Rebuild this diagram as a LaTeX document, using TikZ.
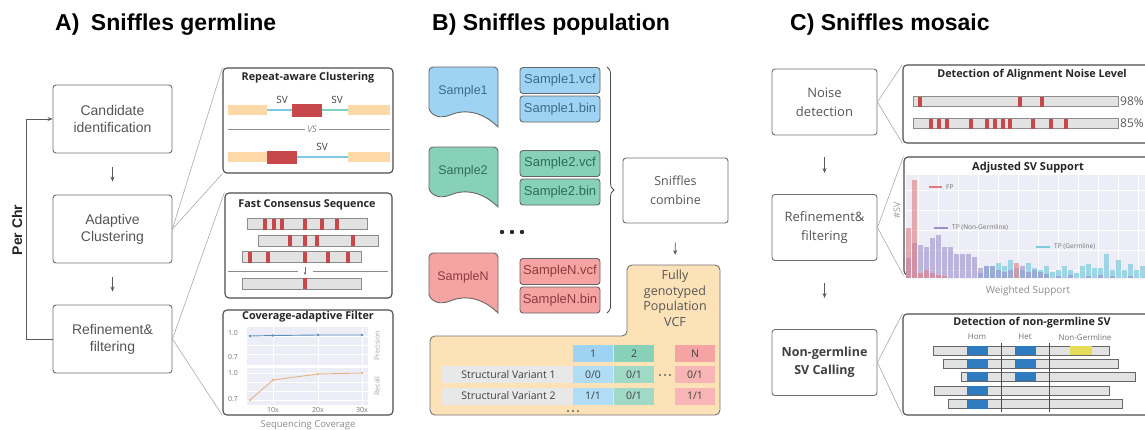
\documentclass[tikz,border=0pt]{standalone}
\usepackage{fontspec}
\setmainfont{Liberation Sans}
\newfontfamily\opensans{Open Sans}
\usetikzlibrary{arrows.meta,decorations.pathreplacing}

\definecolor{boxgray}{HTML}{6E6E6E}
\definecolor{txtgray}{HTML}{555555}
\definecolor{linkgray}{HTML}{AAAAAA}
\definecolor{smpblue}{HTML}{9ED3F3}
\definecolor{smpteal}{HTML}{88D1B9}
\definecolor{smppink}{HTML}{F6A3A3}
\definecolor{smpbluetxt}{HTML}{3B6C8C}
\definecolor{smptealtxt}{HTML}{2F6B5A}
\definecolor{smppinktxt}{HTML}{8B3E3E}
\definecolor{peach}{HTML}{FDE2B8}
\definecolor{rowgray}{HTML}{E8E8E8}
\definecolor{svred}{HTML}{C8474A}
\definecolor{flank}{HTML}{FCD9A6}
\definecolor{svline}{HTML}{7EC8E3}
\definecolor{svlinetwo}{HTML}{7FD3C4}
\definecolor{readgray}{HTML}{E2E2E2}
\definecolor{homblue}{HTML}{2F7BBF}
\definecolor{ngyellow}{HTML}{E6DC5A}
\definecolor{plotbg}{HTML}{ECEDF6}
\definecolor{precblue}{HTML}{5B8DB8}
\definecolor{recallorange}{HTML}{E3B488}
\definecolor{fpred}{HTML}{E07A80}
\definecolor{ngpurple}{HTML}{9C8FCB}
\definecolor{gcyan}{HTML}{7CCBDD}

\begin{document}
\begin{tikzpicture}[x=1pt, y=-1pt,
  stage/.style={draw=boxgray, line width=0.9pt, rounded corners=3pt, minimum width=119pt, minimum height=68pt, align=center, text=txtgray, font=\fontsize{14}{17}\selectfont},
  mstage/.style={stage, minimum width=105pt, minimum height=66pt, font=\opensans\fontsize{13}{19}\selectfont},
  flow/.style={-{Stealth[length=5pt,width=4pt]}, draw=black!65, line width=0.8pt},
  link/.style={draw=linkgray, line width=0.6pt},
  inset/.style={draw=black!70, line width=1.1pt, rounded corners=4pt, fill=white, inner sep=0pt},
  ititle/.style={font=\opensans\bfseries\fontsize{10.8}{12}\selectfont, text=black!85},
  ptitle/.style={font=\bfseries\fontsize{23}{26}\selectfont, anchor=west, inner sep=0pt},
  read/.style={fill=readgray, draw=black!45, line width=0.4pt},
  filebox/.style={draw=black!60, line width=0.9pt, rounded corners=3pt, minimum width=80pt, minimum height=26pt, inner sep=0pt, font=\fontsize{13}{13}\selectfont},
  cell/.style={minimum height=17pt, minimum width=40pt, inner sep=0pt, font=\opensans\fontsize{10.5}{11}\selectfont, text=black!75},
  ticklab/.style={font=\opensans\fontsize{7}{7}\selectfont, text=black!55, inner sep=1pt},
]
\useasboundingbox (0,0) rectangle (1145,429);

% ---------------- A) germline
\node[ptitle] (TA) at (55,25) {A)\enspace Sniffles germline};
\node[stage] (A1) at (112.5,119) {Candidate\\identification};
\node[stage] (A2) at (112.5,229) {Adaptive\\Clustering};
\node[stage] (A3) at (112.5,339) {Refinement\&\\filtering};
\draw[flow, shorten <=14pt, shorten >=13pt] (A1) -- (A2);
\draw[flow, shorten <=14pt, shorten >=13pt] (A2) -- (A3);
\draw[flow] (A3.west) -- ++(-26,0) |- (A1.west);
\node[rotate=90, font=\bfseries\fontsize{14}{14}\selectfont, text=black!85] (PC) at (17,230) {Per Chr};

\node[inset, minimum width=170pt, minimum height=105pt] (RC) at (308,120.5) {};
\node[inset, minimum width=167pt, minimum height=105pt] (FC) at (308.5,245.5) {};
\node[inset, minimum width=170pt, minimum height=105pt] (CF) at (308,362.5) {};
\draw[link] (A2.east) -- (RC.north west);
\draw[link] (A2.east) -- (RC.south west);
\draw[link] (A3.east) -- (FC.north west);
\draw[link] (A3.east) -- (CF.south west);

% repeat-aware clustering
\node[ititle] (RCt) at (308,78) {Repeat-aware Clustering};
\fill[flank] (228,105) rectangle (267,115);
\draw[svline, line width=2pt] (267,110) -- (292,110);
\fill[svred] (292,104) rectangle (322,117);
\draw[svlinetwo, line width=2pt] (322,110) -- (348,110);
\fill[flank] (348,105) rectangle (390,115);
\node[font=\opensans\fontsize{10}{10}\selectfont, text=black!75] (SVa) at (282,100) {SV};
\node[font=\opensans\fontsize{10}{10}\selectfont, text=black!75] (SVb) at (337,100) {SV};
\draw[black!45, line width=0.7pt] (228,129) -- (390,129);
\node[fill=white, inner sep=2pt, font=\opensans\itshape\fontsize{9}{9}\selectfont, text=black!50] (VS) at (312,129) {VS};
\fill[flank] (228,152) rectangle (267,162);
\fill[svred] (267,151) rectangle (297,164);
\draw[svline, line width=2pt] (297,157) -- (348,157);
\fill[flank] (348,152) rectangle (390,162);
\node[font=\opensans\fontsize{10}{10}\selectfont, text=black!75] (SVc) at (322,147) {SV};

% fast consensus sequence
\node[ititle] (FCt) at (307,205) {Fast Consensus Sequence};
\foreach \xa/\xb/\yy/\marks in {247/367/224/{265,274,282,305,322,337}, 258/378/240.5/{290,305,317,353}, 242/361/257/{250,268,305,328,348}, 242/361/283.5/{305}} {
  \filldraw[read] (\xa,{\yy-5.5}) rectangle (\xb,{\yy+5.5});
  \foreach \m in \marks
    \fill[svred] ({\m-2},{\yy-5.5}) rectangle ({\m+2},{\yy+5.5});
}
\draw[black!45, line width=0.7pt] (228,271) -- (298,271);
\draw[black!45, line width=0.7pt] (313,271) -- (388,271);
\draw[-{Stealth[length=3pt]}, black!60] (305,267) -- (305,275);

% coverage-adaptive filter
\node[ititle] (CFt) at (308,317) {Coverage-adaptive Filter};
\fill[plotbg] (247,327) rectangle (368,365);
\fill[plotbg] (247,368) rectangle (368,405);
\foreach \gx in {273,318,362}
  \draw[white, line width=0.6pt] (\gx,327) -- (\gx,365) (\gx,368) -- (\gx,405);
\foreach \gy in {336,345,354,373,382,391,400}
  \draw[white, line width=0.6pt] (247,\gy) -- (368,\gy);
\node[ticklab] (t1) at (233,333) {1.0};
\node[ticklab] (t2) at (233,357) {0.7};
\node[ticklab] (t3) at (233,373) {1.0};
\node[ticklab] (t4) at (233,399) {0.7};
\draw[precblue, line width=0.9pt] (250,336) -- (273,335.5) -- (318,335) -- (362,335);
\foreach \px/\py in {250/336, 273/335.5, 318/335, 362/335}
  \fill[precblue] (\px,\py) circle (1.4pt);
\draw[recallorange, line width=0.9pt] (250,400) -- (273,380) -- (318,374) -- (362,373);
\foreach \px/\py in {250/400, 273/380, 318/374, 362/373}
  \fill[recallorange] (\px,\py) circle (1.4pt);
\node[ticklab] (x1) at (273,410) {10x};
\node[ticklab] (x2) at (318,410) {20x};
\node[ticklab] (x3) at (362,410) {30x};
\node[ticklab, rotate=90, text=black!35] (prec) at (377,346) {Precision};
\node[ticklab, rotate=90, text=black!35] (rec) at (377,386) {Recall};
\node[font=\opensans\fontsize{9.5}{10}\selectfont, text=black!45] (SC0) at (308,425) {Sequencing Coverage};

% ---------------- B) population
\node[ptitle] (TB) at (432,25) {B) Sniffles population};
\foreach \i/\t/\vy/\col/\tc/\lab in {1/67/80.5/smpblue/smpbluetxt/Sample1, 2/147/163.5/smpteal/smptealtxt/Sample2, N/253/271.5/smppink/smppinktxt/SampleN} {
  \filldraw[fill=\col, draw=black!60, line width=0.9pt] (429,\t+42) [rounded corners=4pt] -- (429,\t) -- (498,\t) [sharp corners] -- (498,\t+60)
    .. controls (482,\t+44) and (464,\t+42) .. (450,\t+48) .. controls (440,\t+52) and (432,\t+49) .. (429,\t+42) -- cycle;
  \node[font=\fontsize{12.5}{13}\selectfont, text=\tc] (S\i) at (463,\t+24) {\lab};
  \node[filebox, fill=\col, text=\tc] (V\i) at (560,\vy) {\lab.vcf};
  \node[filebox, fill=\col, text=\tc] (B\i) at (560,\vy+28.5) {\lab.bin};
}
\foreach \dx in {-10,0,10}
  \fill[black!85] (512+\dx,232) circle (2.2pt);
\draw[decorate, decoration={brace, amplitude=7pt}, black!70, line width=0.8pt] (607,67) -- (607,313);
\node[stage, minimum width=105pt, minimum height=65pt, font=\opensans\fontsize{12.5}{19}\selectfont] (SC) at (675.5,190.5) {Sniffles\\combine};
\draw[fill=peach, draw=black!55, line width=0.9pt, rounded corners=5pt] (627,265) -- (720,265) -- (720,415) -- (430,415) -- (430,336) -- (627,336) -- cycle;
\node[font=\opensans\fontsize{12.5}{15.5}\selectfont, text=txtgray, align=center] (PV) at (675,298.5) {Fully\\genotyped\\Population\\VCF};
\draw[flow, shorten <=19pt, shorten >=12pt] (SC.south) -- (PV.north);

\node[cell, fill=smpblue] (H1) at (593,353.5) {1};
\node[cell, fill=smpteal] (H2) at (634,353.5) {2};
\node[cell, fill=smppink] (HN) at (695,353.5) {N};
\node[cell, fill=rowgray, minimum width=133pt] (R1) at (508.5,374.5) {Structural Variant 1};
\node[cell, fill=smpblue!80] (R1a) at (593,374.5) {0/0};
\node[cell, fill=smpteal!80] (R1b) at (634,374.5) {0/1};
\node[cell, fill=smppink!80] (R1n) at (695,374.5) {0/1};
\node[cell, fill=rowgray, minimum width=133pt] (R2) at (508.5,396) {Structural Variant 2};
\node[cell, fill=smpblue!80] (R2a) at (593,396) {1/1};
\node[cell, fill=smpteal!80] (R2b) at (634,396) {0/1};
\node[cell, fill=smppink!80] (R2n) at (695,396) {1/1};
\foreach \dx in {-5,0,5} {
  \fill[black!60] (665+\dx,375) circle (1.1pt);
  \fill[black!60] (573+\dx,411) circle (1.1pt);
}

% ---------------- C) mosaic
\node[ptitle] (TC) at (790,25) {C) Sniffles mosaic};
\node[mstage] (C1) at (824.5,102) {Noise\\detection};
\node[mstage] (C2) at (824.5,227.5) {Refinement\&\\filtering};
\node[mstage, text=black!75, font=\opensans\bfseries\fontsize{12.5}{18}\selectfont] (C3) at (824.5,362.5) {Non-germline\\SV Calling};
\draw[flow, shorten <=22pt, shorten >=21pt] (C1) -- (C2);
\draw[flow, shorten <=22pt, shorten >=31pt] (C2) -- (C3);

\node[inset, minimum width=257pt, minimum height=78pt] (N1) at (1031.5,104) {};
\node[inset, minimum width=256pt, minimum height=118pt] (N2) at (1032,216) {};
\node[inset, minimum width=257pt, minimum height=101pt] (N3) at (1031.5,364.5) {};
\draw[link] (C1.east) -- (N1.north west);
\draw[link] (C1.east) -- (N1.south west);
\draw[link] (C2.east) -- (N2.north west);
\draw[link] (C2.east) -- (N2.south west);
\draw[link] (C3.east) -- (N3.north west);
\draw[link] (C3.east) -- (N3.south west);

% alignment noise
\node[ititle] (N1t) at (1032,75) {Detection of Alignment Noise Level};
\foreach \yy/\marks/\pct in {101.5/{920,1020,1042}/98\%, 123.5/{931,939,947,971,987,995,1003,1010,1033,1051,1066}/85\%} {
  \filldraw[read] (913,{\yy-5}) rectangle (1118,{\yy+5});
  \foreach \m in \marks
    \fill[svred] ({\m-1.8},{\yy-5}) rectangle ({\m+1.8},{\yy+5});
  \node[anchor=west, inner sep=1pt, font=\opensans\fontsize{12}{12}\selectfont, text=black!65] at (1119,\yy) {\pct};
}

% adjusted SV support
\node[ititle, font=\opensans\bfseries\fontsize{11}{12}\selectfont] (N2t) at (1028,168) {Adjusted SV Support};
\fill[plotbg] (906,175) rectangle (1160,278);
\foreach \gx in {918,938,...,1158}
  \draw[white, line width=0.6pt] (\gx,175) -- (\gx,278);
\foreach \gy in {190,210,230,250,270}
  \draw[white, line width=0.6pt] (906,\gy) -- (1160,\gy);
\foreach \i/\f/\n/\g in {0/50/20/0, 1/98/35/0, 2/5/33/0, 3/8/31/0, 4/5/40/0, 5/3/43/0, 6/2/31/0, 7/0/31/0, 8/0/24/0, 9/0/24/0, 10/0/24/0, 11/0/21/0, 12/0/10/5, 13/0/12/12, 14/0/12/12, 15/0/8/15, 16/0/6/12, 17/0/8/18, 18/15/0/10, 19/0/12/8, 20/0/6/15, 21/0/8/10, 22/0/6/8, 23/0/4/12, 24/0/0/6, 25/0/2/8, 26/0/0/12, 27/0/3/8, 28/0/0/5, 29/0/0/12, 30/0/2/14, 31/0/0/10, 32/0/3/10, 33/0/0/24, 34/0/2/8, 35/0/0/18, 36/0/0/8, 37/0/2/14, 38/0/0/8, 39/0/0/12} {
  \fill[gcyan, fill opacity=0.7] ({906+6*\i},278) rectangle ({911+6*\i},{278-\g});
  \fill[ngpurple, fill opacity=0.6] ({906+6*\i},278) rectangle ({911+6*\i},{278-\n});
  \fill[fpred, fill opacity=0.6] ({906+6*\i},278) rectangle ({911+6*\i},{278-\f});
}
\draw[fpred, line width=2pt] (929,187) -- (942,187);
\node[ticklab, anchor=west, font=\opensans\fontsize{6.5}{6.5}\selectfont] (lg1) at (945,187) {FP};
\draw[ngpurple, line width=2pt] (934,228) -- (948,228);
\node[ticklab, anchor=west, font=\opensans\fontsize{6.5}{6.5}\selectfont] (lg2) at (951,228) {TP (Non-Germline)};
\draw[gcyan, line width=2pt] (1036,247) -- (1050,247);
\node[ticklab, anchor=west, font=\opensans\fontsize{6.5}{6.5}\selectfont] (lg3) at (1053,247) {TP (Germline)};
\node[rotate=90, font=\opensans\fontsize{9}{9}\selectfont, text=black!40] (ysv) at (897,210) {\#SV};
\node[font=\opensans\fontsize{10}{10}\selectfont, text=black!45] (ws) at (1028,291) {Weighted Support};

% non-germline SV
\node[ititle] (N3t) at (1032,323) {Detection of non-germline SV};
\node[ticklab, font=\opensans\fontsize{8}{8}\selectfont] (hom) at (977,337) {Hom};
\node[ticklab, font=\opensans\fontsize{8}{8}\selectfont] (het) at (1025,337) {Het};
\node[ticklab, font=\opensans\fontsize{8}{8}\selectfont] (ngl) at (1085,337) {Non-Germline};
\foreach \xa/\xb/\yy in {933/1109/350.5, 943/1118/363.5, 961/1135/376.5, 934/1109/390.5, 948/1122/404}
  \filldraw[read, draw=black!60] (\xa,{\yy-4.5}) rectangle (\xb,{\yy+4.5});
\foreach \yy in {350.5,363.5,376.5,390.5,404}
  \fill[homblue] (967,{\yy-4.5}) rectangle (988,{\yy+4.5});
\foreach \yy in {350.5,363.5,376.5}
  \fill[homblue] (1015,{\yy-4.5}) rectangle (1036,{\yy+4.5});
\fill[ngyellow] (1070,346) rectangle (1092,355);
\draw[black!70, line width=0.7pt] (1001,343) -- (1001,412);
\draw[black!70, line width=0.7pt] (1049,343) -- (1049,412);
\end{tikzpicture}
\end{document}
